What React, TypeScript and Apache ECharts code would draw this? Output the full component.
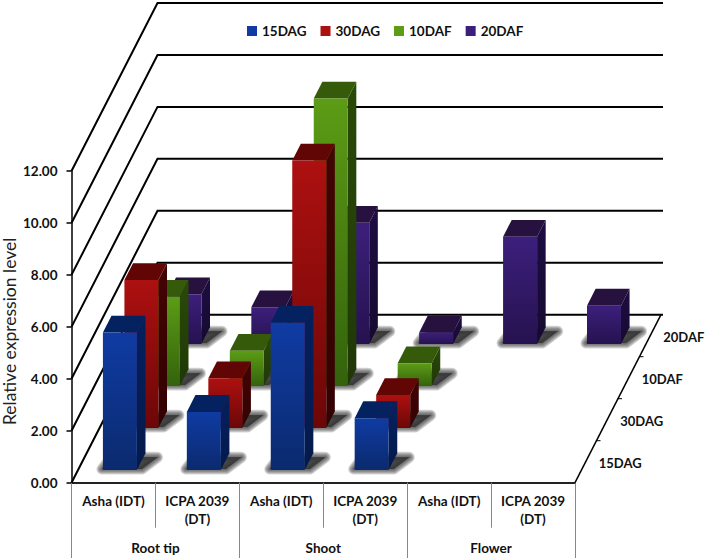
import React, { useEffect, useRef } from "react";
import * as echarts from "echarts";

const samples = ["Asha (IDT)", "ICPA 2039\n(DT)", "Asha (IDT)", "ICPA 2039\n(DT)", "Asha (IDT)", "ICPA 2039\n(DT)"];
const tissues = ["Root tip", "Shoot", "Flower"];
const stages = ["15DAG", "30DAG", "10DAF", "20DAF"];
const yTicks = [0, 2, 4, 6, 8, 10, 12];

const values15DAG = [5.3, 2.24, 5.67, 2.0, null, null];
const values30DAG = [5.7, 1.92, 10.3, 1.27, null, null];
const values10DAF = [3.44, 1.36, 11.07, 0.88, null, null];
const values20DAF = [1.92, 1.42, 4.67, 0.45, 4.13, 1.48];
const stageValues = [values15DAG, values30DAG, values10DAF, values20DAF];

const frontColors = [
  ["#0f3ba3", "#0b2a6e"],
  ["#ad1010", "#6c0707"],
  ["#5c9c16", "#33620c"],
  ["#3c1f7c", "#26124f"],
];
const sideColors = [
  ["#05205f", "#041a4a"],
  ["#430303", "#330202"],
  ["#2a4a08", "#1f3806"],
  ["#1d0d42", "#160a30"],
];
const topColors = ["#04225f", "#620505", "#355a0a", "#26113f"];
const shadowWidths = [11, 9, 7, 5, 3, 1];

const WALL_DX = 86;
const WALL_DY = 168;
const SLOT = WALL_DY / 4;
const FONT = "Lato";

const proj = (x: number, y: number, d: number) => [x + (d * WALL_DX) / WALL_DY, y - d];

function barRenderer(k: number) {
  return (params: any, api: any) => {
    const cat = api.value(0);
    const v = api.value(1);
    const base = api.coord([cat, 0]);
    const top = api.coord([cat, v]);
    const w = api.size([1, 0])[0] * 0.405;
    const d0 = SLOT * (k + 0.3);
    const d1 = d0 + SLOT * 0.4;
    const xl = base[0] - w / 2;
    const xr = base[0] + w / 2;
    const fl = proj(xl, base[1], d0);
    const fr = proj(xr, base[1], d0);
    const br = proj(xr, base[1], d1);
    const bl = proj(xl, base[1], d1);
    const tfl = proj(xl, top[1], d0);
    const tfr = proj(xr, top[1], d0);
    const tbr = proj(xr, top[1], d1);
    const tbl = proj(xl, top[1], d1);
    const grad = (c: string[]) =>
      new echarts.graphic.LinearGradient(0, 0, 0, 1, [
        { offset: 0, color: c[0] },
        { offset: 1, color: c[1] },
      ]);
    const shadowPts = [
      [fl[0] - 1, fl[1] - 1],
      [fr[0] + 5, fr[1] - 1],
      [br[0] + 12, br[1] + 4],
      [bl[0], bl[1] + 4],
    ];
    const shadows = shadowWidths.map((lw) => ({
      type: "polygon",
      shape: { points: shadowPts },
      style: {
        fill: "rgba(50,50,50,0.28)",
        stroke: "rgba(50,50,50,0.2)",
        lineWidth: lw,
        lineJoin: "round",
      },
    }));
    return {
      type: "group",
      children: [
        ...shadows,
        {
          type: "polygon",
          shape: { points: [fr, br, tbr, tfr] },
          style: { fill: grad(sideColors[k]) },
        },
        {
          type: "polygon",
          shape: { points: [tfl, tfr, tbr, tbl] },
          style: { fill: topColors[k] },
        },
        {
          type: "polygon",
          shape: { points: [fl, fr, tfr, tfl] },
          style: { fill: grad(frontColors[k]) },
        },
      ],
    };
  };
}

function frameRenderer(params: any, api: any) {
  const v = api.value(1);
  const x0 = params.coordSys.x;
  const w = params.coordSys.width;
  const y = api.coord([0, v])[1];
  const back = proj(x0, y, WALL_DY);
  return {
    type: "polyline",
    shape: { points: [[x0, y], back, [back[0] + w + 2, back[1]]] },
    style: { stroke: "#000", lineWidth: 2, fill: "none" },
  };
}

function depthRenderer(params: any, api: any) {
  const k = api.value(0);
  const xr = params.coordSys.x + params.coordSys.width;
  const yb = params.coordSys.y + params.coordSys.height;
  const children: any[] = [];
  if (k === 0) {
    const p = proj(xr, yb, WALL_DY);
    children.push({
      type: "line",
      shape: { x1: xr, y1: yb, x2: p[0], y2: p[1] },
      style: { stroke: "#000", lineWidth: 1.5 },
    });
  }
  if (k > 0) {
    const t = proj(xr, yb, SLOT * k);
    children.push({
      type: "line",
      shape: { x1: t[0], y1: t[1], x2: t[0] + 4, y2: t[1] },
      style: { stroke: "#000", lineWidth: 1 },
    });
  }
  const c = proj(xr, yb, SLOT * (k + 0.5));
  children.push({
    type: "text",
    x: c[0] + 13,
    y: c[1] + 1,
    style: {
      text: stages[k],
      fill: "#111",
      font: `bold 13px ${FONT}`,
      textAlign: "left",
      textVerticalAlign: "middle",
    },
  });
  return { type: "group", children };
}

export default function App() {
  const ref = useRef<HTMLDivElement>(null);
  useEffect(() => {
    const chart = echarts.init(ref.current!, null, { renderer: "svg" });
    const barSeries = [3, 2, 1, 0].map((k) => ({
      type: "custom",
      name: stages[k],
      coordinateSystem: "cartesian2d",
      xAxisIndex: 0,
      yAxisIndex: 0,
      renderItem: barRenderer(k),
      itemStyle: { color: frontColors[k][0] },
      encode: { x: 0, y: 1 },
      data: stageValues[k].map((v, i) => [i, v]).filter((d) => d[1] !== null),
      z: 5,
    }));
    chart.setOption({
      animation: false,
      backgroundColor: "#fff",
      legend: {
        data: stages,
        left: 247,
        top: 24,
        padding: 0,
        icon: "rect",
        itemWidth: 10,
        itemHeight: 10,
        itemGap: 14,
        textStyle: { fontFamily: FONT, fontWeight: "bold", fontSize: 13.5, color: "#111" },
      },
      grid: { left: 71.5, right: 133, top: 171, bottom: 75.3, outerBoundsMode: "none", containLabel: false },
      xAxis: [
        {
          type: "category",
          data: samples,
          position: "bottom",
          axisLine: { show: true, onZero: false, lineStyle: { color: "#222", width: 2 } },
          axisTick: { show: true, interval: 0, alignWithLabel: false, length: 45, lineStyle: { color: "#888", width: 1 } },
          axisLabel: {
            interval: 0,
            margin: 9,
            lineHeight: 18.5,
            fontFamily: FONT,
            fontWeight: "bold",
            fontSize: 13.5,
            color: "#111",
          },
          splitLine: { show: false },
        },
        {
          type: "category",
          data: tissues,
          position: "bottom",
          axisLine: { show: false, onZero: false },
          axisTick: { show: true, interval: 0, length: 76, lineStyle: { color: "#888", width: 1 } },
          axisLabel: {
            interval: 0,
            margin: 58,
            fontFamily: FONT,
            fontWeight: "bold",
            fontSize: 13.5,
            color: "#111",
          },
          splitLine: { show: false },
        },
      ],
      yAxis: {
        type: "value",
        min: 0,
        max: 12,
        interval: 2,
        name: "Relative expression level",
        nameLocation: "middle",
        nameGap: 53,
        nameMoveOverlap: false,
        nameTextStyle: { fontFamily: FONT, fontSize: 17.5, color: "#222", padding: [0, 9, 0, 0] },
        axisLine: { show: true, lineStyle: { color: "#000", width: 1.5 } },
        axisTick: { show: true, length: 5, lineStyle: { color: "#000", width: 1.5 } },
        axisLabel: {
          margin: 14,
          formatter: (v: number) => v.toFixed(2),
          fontFamily: FONT,
          fontWeight: "bold",
          fontSize: 13.5,
          color: "#111",
        },
        splitLine: { show: false },
      },
      series: [
        {
          type: "custom",
          name: "frame",
          coordinateSystem: "cartesian2d",
          renderItem: frameRenderer,
          encode: { x: 0, y: 1 },
          data: yTicks.map((v) => [0, v]),
          z: 2,
        },
        {
          type: "custom",
          name: "depth",
          coordinateSystem: "cartesian2d",
          renderItem: depthRenderer,
          encode: { x: 0 },
          data: stages.map((_, k) => [k]),
          z: 2,
        },
        ...barSeries,
      ],
    });
    return () => chart.dispose();
  }, []);
  return <div ref={ref} style={{ position: "absolute", left: 0, top: 0, width: 708, height: 558 }} />;
}
